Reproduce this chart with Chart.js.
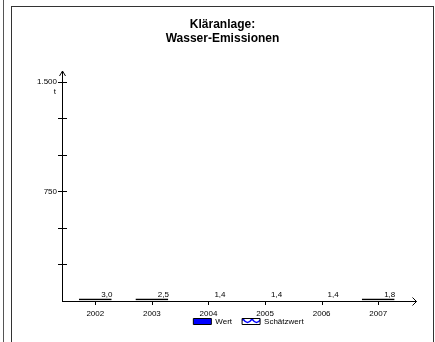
<!DOCTYPE html>
<html>
<head>
<meta charset="utf-8">
<script src="https://cdn.jsdelivr.net/npm/chart.js@4/dist/chart.umd.min.js"></script>
<style>
  body { margin: 0; background: #fff; }
  #wrap { position: relative; width: 435px; height: 342px; overflow: hidden; }
  #leftLine { position: absolute; left: 3px; top: 0; width: 1px; height: 342px; background: #555; }
  #frame { position: absolute; left: 11px; top: 6px; width: 421px; height: 360px; border: 1px solid #333; }
  #chart { position: absolute; left: 0; top: 0; }
</style>
</head>
<body>
<div id="wrap">
  <div id="leftLine"></div>
  <div id="frame"></div>
  <canvas id="chart" width="435" height="342"></canvas>
</div>
<script>
// Jahre und Werte (t)
const categories = ["2002", "2003", "2004", "2005", "2006", "2007"];
const wertValues = [3.0, 2.5, null, null, null, 1.8];
const schaetzValues = [null, null, 1.4, 1.4, 1.4, null];
const yTickLabels = { 750: "750", 1500: "1.500" };
const yUnit = "t";
const titleLines = ["Kläranlage:", "Wasser-Emissionen"];

const FONT = "Arial, 'Liberation Sans', sans-serif";

// Muster fuer Schaetzwert (weiss mit blauer Welle)
function makePattern(ctx) {
    const c = document.createElement("canvas");
    c.width = 9;
    c.height = 6;
    const g = c.getContext("2d");
    g.fillStyle = "#fff";
    g.fillRect(0, 0, 9, 6);
    g.strokeStyle = "#0000ff";
    g.lineWidth = 1.5;
    g.beginPath();
    g.moveTo(0, 1);
    g.quadraticCurveTo(4.5, 8, 9, 1);
    g.stroke();
    return ctx.createPattern(c, "repeat");
}

const ctx = document.getElementById("chart").getContext("2d");
const pattern = makePattern(ctx);

function fmt(v) {
    return v.toFixed(1).replace(".", ",");
}

const axisPlugin = {
    id: "axisPlugin",
    afterLayout(chart) {
        // Titel und Legende wie im Original verschieben
        const t = chart.titleBlock;
        if (t) {
            const dx = 222.5 - (t.left + t.right) / 2;
            t.left += dx; t.right += dx;
        }
        const lg = chart.legend;
        if (lg) {
            const dx = 248.5 - (lg.left + lg.right) / 2;
            const dy = 321.5 - (lg.top + lg.bottom) / 2;
            lg.left += dx; lg.right += dx;
            lg.top += dy; lg.bottom += dy;
        }
    },
    afterDatasetsDraw(chart) {
        const c = chart.ctx;
        const area = chart.chartArea;
        const xs = chart.scales.x;
        const ys = chart.scales.y;
        const ax = area.left - 5;
        const ay = Math.round(area.bottom);
        c.save();
        c.strokeStyle = "#000";
        c.lineWidth = 1;

        // y-Achse mit Pfeil
        c.beginPath();
        c.moveTo(ax + 0.5, ay);
        c.lineTo(ax + 0.5, area.top - 11);
        c.moveTo(ax - 2.5, area.top - 6);
        c.lineTo(ax + 0.5, area.top - 11);
        c.lineTo(ax + 3.5, area.top - 6);
        c.stroke();

        // x-Achse mit Pfeil
        c.beginPath();
        c.moveTo(ax, ay + 0.5);
        c.lineTo(area.right + 10, ay + 0.5);
        c.moveTo(area.right + 6, ay - 3.5);
        c.lineTo(area.right + 10, ay + 0.5);
        c.lineTo(area.right + 6, ay + 4.5);
        c.stroke();

        // Teilstriche y
        c.beginPath();
        ys.ticks.forEach(function(tk) {
            if (tk.value === 0) return;
            const y = Math.round(ys.getPixelForValue(tk.value)) + 0.5;
            c.moveTo(ax - 4, y);
            c.lineTo(ax + 5, y);
        });
        // Teilstriche x
        categories.forEach(function(cat, i) {
            const x = Math.round(xs.getPixelForValue(i)) + 0.5;
            c.moveTo(x, ay);
            c.lineTo(x, ay + 4);
        });
        c.stroke();

        // Einheit unter 1.500
        c.fillStyle = "#000";
        c.font = "8px " + FONT;
        c.textAlign = "right";
        c.textBaseline = "middle";
        c.fillText(yUnit, ys.right - 11, ys.getPixelForValue(1500) + 10);

        // Wertbeschriftungen
        c.textAlign = "center";
        chart.data.datasets.forEach(function(ds, di) {
            const meta = chart.getDatasetMeta(di);
            meta.data.forEach(function(el, i) {
                const v = ds.data[i];
                if (v === null || v === undefined) return;
                c.fillText(fmt(v), el.x + 11.5, el.base - 5.5);
            });
        });
        c.restore();
    }
};

new Chart(ctx, {
    type: "bar",
    data: {
        labels: categories,
        datasets: [
            {
                label: "Wert",
                data: wertValues,
                backgroundColor: "#0000ff",
                borderColor: "#000",
                borderWidth: 1,
                borderSkipped: false,
                minBarLength: 2
            },
            {
                label: "Schätzwert",
                data: schaetzValues,
                backgroundColor: pattern,
                borderWidth: 0
            }
        ]
    },
    options: {
        responsive: false,
        animation: false,
        datasets: {
            bar: { grouped: false, barPercentage: 0.58, categoryPercentage: 1 }
        },
        layout: { padding: { left: 12, right: 28.5, top: 0, bottom: -4.6 } },
        scales: {
            x: {
                grid: { display: false, drawTicks: false },
                border: { display: false },
                ticks: { padding: 8, color: "#000", font: { family: FONT, size: 8 }, maxRotation: 0, autoSkip: false },
                afterFit: function(s) { s.height = 18; }
            },
            y: {
                min: 0,
                max: 1500,
                grid: { display: false, drawTicks: false },
                border: { display: false },
                ticks: {
                    stepSize: 250,
                    padding: 10,
                    color: "#000",
                    font: { family: FONT, size: 8 },
                    callback: function(v) { return yTickLabels[v] || ""; }
                },
                afterFit: function(s) { s.width = 55; }
            }
        },
        plugins: {
            title: {
                display: true,
                text: titleLines,
                color: "#000",
                font: { family: FONT, size: 12, weight: "bold", lineHeight: 1.1 },
                padding: { top: 18.5, bottom: 37.1 }
            },
            legend: {
                position: "bottom",
                labels: {
                    boxWidth: 18,
                    boxHeight: 6,
                    padding: 10,
                    color: "#000",
                    font: { family: FONT, size: 8 },
                    generateLabels: function(chart) {
                        return [
                            { text: "Wert", fillStyle: "#0000ff", strokeStyle: "#000", lineWidth: 1, datasetIndex: 0 },
                            { text: "Schätzwert", fillStyle: pattern, strokeStyle: "#000", lineWidth: 1, datasetIndex: 1 }
                        ];
                    }
                }
            },
            tooltip: { enabled: false }
        }
    },
    plugins: [axisPlugin]
});
</script>
</body>
</html>
